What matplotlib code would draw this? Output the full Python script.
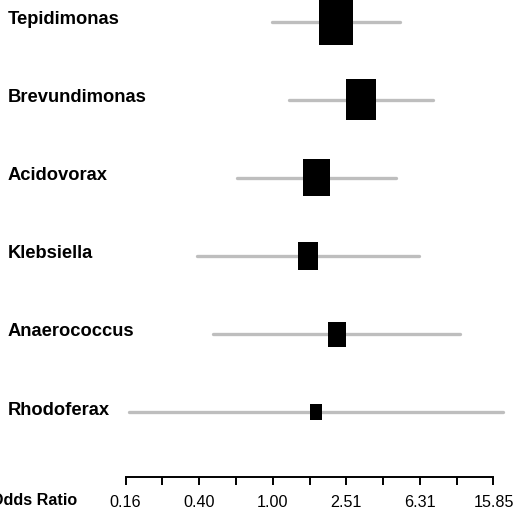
import numpy as np
import matplotlib
matplotlib.use('Agg')
from matplotlib import pyplot as plt
from matplotlib.patches import Rectangle

"""Forest plot of odds ratios per genus"""
genera = ['Tepidimonas', 'Brevundimonas', 'Acidovorax', 'Klebsiella', 'Anaerococcus', 'Rhodoferax']
odds = [2.21, 3.02, 1.73, 1.56, 2.24, 1.72]
lower = [0.99, 1.22, 0.637, 0.389, 0.476, 0.165]
upper = [4.92, 7.46, 4.68, 6.26, 10.4, 17.9]
weights = [1.0, 0.88, 0.79, 0.59, 0.53, 0.35]  # relative box size
tick_exp = [-0.8, -0.4, 0.0, 0.4, 0.8, 1.2]

plt.rcParams['font.family'] = ['Liberation Sans', 'DejaVu Sans']

fig = plt.figure(figsize=(5.19, 5.09), dpi=100)
ax = fig.add_axes([0, 0, 1, 1])
ax.set_xscale('log')
ax.set_xlim(10 ** -1.4821, 10 ** 1.3386)
ax.set_ylim(6.239, -0.278)

px_per_dec = 184.0   # pixels per log10 unit
px_per_row = 78.1
box_w = 34.0         # biggest box width in px

for i, g in enumerate(genera):
    ax.plot([lower[i], upper[i]], [i, i], color='#bebebe', lw=2.4,
            solid_capstyle='round', zorder=1)
    w = box_w * weights[i]
    h = w * 1.38 / px_per_row
    left = odds[i] * 10 ** (-w / 2 / px_per_dec)
    right = odds[i] * 10 ** (w / 2 / px_per_dec)
    ax.add_patch(Rectangle((left, i - h / 2), right - left, h,
                           facecolor='black', edgecolor='none', zorder=2))
    ax.text(10 ** ((8 - 272.7) / px_per_dec), i + 2.3 / px_per_row, g,
            fontsize=13.2, fontweight='bold', ha='left', va='baseline')

# x axis drawn as a spine part way down
axis_y = (477.3 - 21.7) / px_per_row
for s in ['top', 'right', 'left']:
    ax.spines[s].set_visible(False)
ax.spines['bottom'].set_position(('data', axis_y))
ax.spines['bottom'].set_linewidth(1.4)
ax.spines['bottom'].set_bounds(10 ** tick_exp[0], 10 ** tick_exp[-1])
ax.set_xticks([10 ** e for e in tick_exp])
ax.set_xticklabels(['%.2f' % (10 ** e) for e in tick_exp])
ax.set_xticks([10 ** (e + 0.2) for e in tick_exp[:-1]], minor=True)
ax.xaxis.set_minor_formatter(matplotlib.ticker.NullFormatter())
ax.tick_params(axis='x', which='both', direction='out', length=6, width=1.4,
               labelsize=11.6, pad=6.4)
ax.set_yticks([])
ax.patch.set_visible(False)

ax.text(10 ** ((77 - 272.7) / px_per_dec), axis_y + (505.0 - 477.3) / px_per_row,
        'Odds Ratio', fontsize=11.6, fontweight='bold', ha='right', va='baseline')

fig.savefig('out.png', dpi=100)
